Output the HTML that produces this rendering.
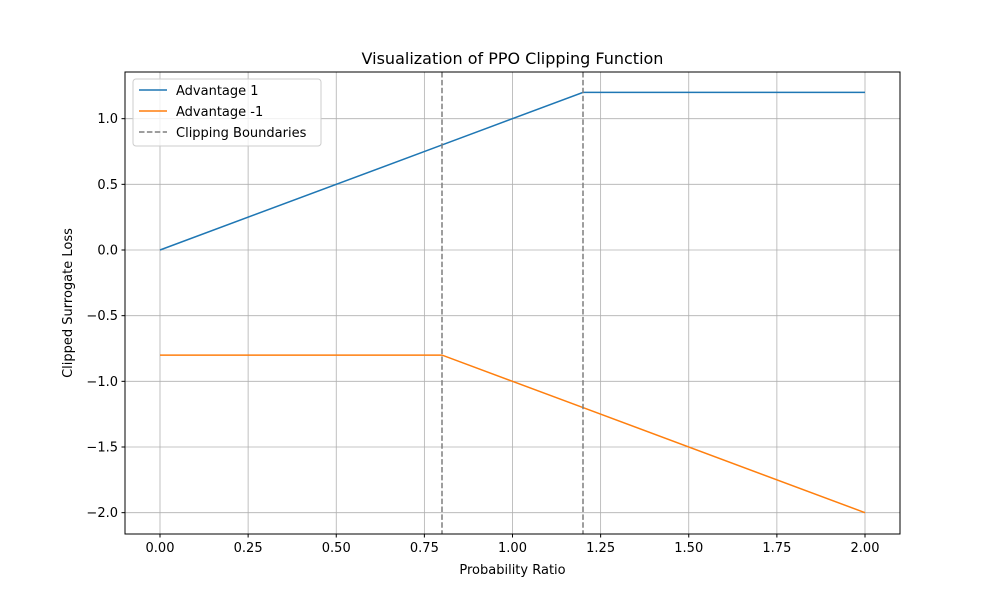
<!DOCTYPE html>
<html><head><meta charset="utf-8"><style>
body{margin:0;background:#fff;font-family:"Liberation Sans","DejaVu Sans",sans-serif;}
svg text{font-family:"DejaVu Sans","Liberation Sans",sans-serif;}
</style></head><body>
<svg id="chart" width="1000" height="600" xmlns="http://www.w3.org/2000/svg">
<rect width="1000" height="600" fill="#fff"/>
<g id="grid"></g>
<g id="marks"></g>
<rect x="125" y="72" width="775" height="462" fill="none" stroke="#000" stroke-width="1"/>
<g id="axes"></g>
<text x="512.5" y="64" text-anchor="middle" font-size="16">Visualization of PPO Clipping Function</text>
<text x="512.5" y="574" text-anchor="middle" font-size="13">Probability Ratio</text>
<text transform="translate(72,303) rotate(-90)" text-anchor="middle" font-size="13">Clipped Surrogate Loss</text>
<g>
<rect x="133" y="79" width="188" height="67" rx="3" fill="#fff" fill-opacity="0.8" stroke="#ccc"/>
<line x1="139" y1="90" x2="167" y2="90" stroke="#1f77b4" stroke-width="1.5"/>
<text x="176" y="95" font-size="13">Advantage 1</text>
<line x1="139" y1="111" x2="167" y2="111" stroke="#ff7f0e" stroke-width="1.5"/>
<text x="176" y="116" font-size="13">Advantage -1</text>
<line x1="139" y1="132" x2="167" y2="132" stroke="#7f7f7f" stroke-width="1.5" stroke-dasharray="5.5,2.4"/>
<text x="176" y="137" font-size="13">Clipping Boundaries</text>
</g>
</svg>
<script>
const xTicks=[0,0.25,0.5,0.75,1.0,1.25,1.5,1.75,2.0];
const xTickLabels=["0.00","0.25","0.50","0.75","1.00","1.25","1.50","1.75","2.00"];
const yTicks=[1.0,0.5,0.0,-0.5,-1.0,-1.5,-2.0];
const yTickLabels=["1.0","0.5","0.0","\u22120.5","\u22121.0","\u22121.5","\u22122.0"];
const ratioX=[0,0.8,1.2,2.0];
const advPos=[0,0.8,1.2,1.2];
const advNeg=[-0.8,-0.8,-1.2,-2.0];
const clipBounds=[0.8,1.2];
const X=v=>160+(v-0)*352.5;
const Y=v=>250-v*131.333;
const NS="http://www.w3.org/2000/svg";
function mk(tag,attrs,parent){const e=document.createElementNS(NS,tag);for(const k in attrs)e.setAttribute(k,attrs[k]);document.getElementById(parent).appendChild(e);return e;}
xTicks.forEach((t,i)=>{
 const g=mk('line',{x1:X(t),x2:X(t),y1:72,y2:534,stroke:'#b0b0b0','stroke-width':0.8},'grid');
 
 
 mk('line',{x1:X(t),x2:X(t),y1:534,y2:537.5,stroke:'#000'},'axes');
 const tx=mk('text',{x:X(t),y:552,'text-anchor':'middle','font-size':13},'axes');tx.textContent=xTickLabels[i];
 
 
});
yTicks.forEach((t,i)=>{
 const g=mk('line',{x1:125,x2:900,y1:Y(t),y2:Y(t),stroke:'#b0b0b0','stroke-width':0.8},'grid');
 
 
 mk('line',{x1:121.5,x2:125,y1:Y(t),y2:Y(t),stroke:'#000'},'axes');
 const tx=mk('text',{x:118,y:Y(t)+4.5,'text-anchor':'end','font-size':13},'axes');tx.textContent=yTickLabels[i];
 
 
});
const l1=mk('polyline',{points:ratioX.map((x,i)=>X(x)+','+Y(advPos[i])).join(' '),fill:'none',stroke:'#1f77b4','stroke-width':1.5},'marks');


const l2=mk('polyline',{points:ratioX.map((x,i)=>X(x)+','+Y(advNeg[i])).join(' '),fill:'none',stroke:'#ff7f0e','stroke-width':1.5},'marks');


clipBounds.forEach(c=>{
 const l=mk('line',{x1:X(c),x2:X(c),y1:72,y2:534,stroke:'#7f7f7f','stroke-width':1.5,'stroke-dasharray':'5.5,2.4'},'marks');
 
 
});
</script>
</body></html>
